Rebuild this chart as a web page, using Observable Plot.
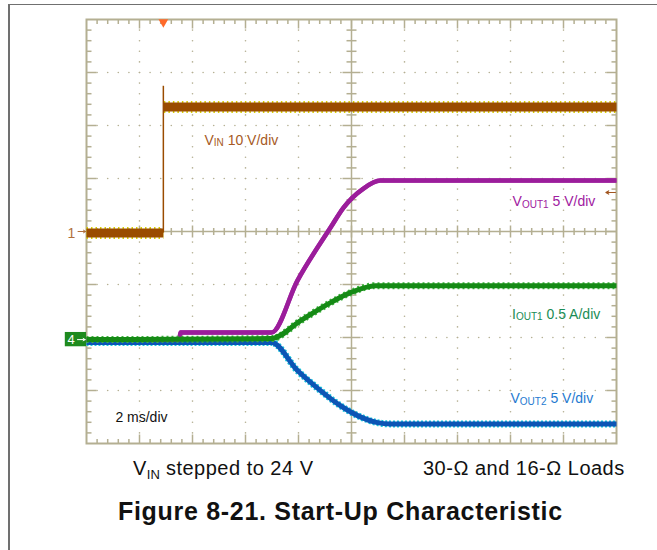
<!DOCTYPE html>
<html>
<head>
<meta charset="utf-8">
<script src="https://cdn.jsdelivr.net/npm/d3@7"></script>
<script src="https://cdn.jsdelivr.net/npm/@observablehq/plot@0.6"></script>
<style>
  html, body { margin: 0; padding: 0; background: #fff; }
  #wrap { position: relative; width: 657px; height: 550px; overflow: hidden;
          font-family: "Liberation Sans", Arial, sans-serif; }
  #pageframe { position: absolute; left: 8px; top: 4px; width: 700px; height: 600px;
               border-left: 2px solid #707070; border-top: 1.5px solid #707070; }
  #chart { position: absolute; left: 0; top: 0; }
  .cap { position: absolute; font-size: 20px; line-height: 20px; letter-spacing: 0.5px;
         color: #111; white-space: nowrap; }
  .cap sub { font-size: 13px; vertical-align: -4px; line-height: 0; letter-spacing: 0; }
  #title { position: absolute; left: 118px; top: 499px; font-size: 25px; line-height: 25px;
           font-weight: bold; letter-spacing: 0.7px; white-space: nowrap; color: #111; }
</style>
</head>
<body>
<div id="wrap">
  <div id="pageframe"></div>
  <div id="chart"></div>
  <div class="cap" style="left:133px; top:458px;">V<sub>IN</sub> stepped to 24 V</div>
  <div class="cap" style="left:423px; top:458px;">30-Ω and 16-Ω Loads</div>
  <div id="title">Figure 8-21. Start-Up Characteristic</div>
</div>
<script>
// ---------------- data ----------------
// channels: units per division and ground level (in divisions from centre)
const channelNames = ["VIN", "VOUT1", "IOUT1", "VOUT2"];
const unitsPerDiv  = [10, 5, 0.5, 5];
const groundDiv    = [0, -2.04, -2.04, -2.04];

// VIN (V) versus time (ms)
const stepTime   = 2.9;
const vinSpike   = 27.4;
const vinTime    = [0, 2.9, 2.92, 20];
const vinVolts   = [-0.3, -0.3, 23.5, 23.5];
const vinSegment = ["before", "before", "after", "after"];

// VOUT1 (V)
const vout1Time  = [0, 3.5, 3.55, 6.98, 7.96, 9.21, 9.70, 10.45, 11.09, 20];
const vout1Volts = [0, 0, 0.66, 0.66, 5.57, 10.57, 12.45, 14.25, 15.0, 15.0];

// IOUT1 (A)
const iout1Time  = [0, 6.98, 8.08, 9.21, 9.96, 10.91, 20];
const iout1Amps  = [0, 0.01, 0.179, 0.349, 0.443, 0.509, 0.509];

// VOUT2 (V)
const vout2Time  = [0, 6.98, 7.96, 8.83, 9.58, 10.23, 10.98, 11.47, 20];
const vout2Volts = [-0.28, -0.28, -2.92, -4.81, -6.23, -7.17, -7.83, -7.95, -7.95];

// trace labels
const labelMain = ["V", "V", "I", "V"];
const labelSub  = ["IN", "OUT1", "OUT1", "OUT2"];
const labelRest = [" 10 V/div", " 5 V/div", " 0.5 A/div", " 5 V/div"];
const timebaseLabel = "2 ms/div";

// ---------------- styling / layout ----------------
const traceColor = ["#9a4c00", "#9b1d9b", "#158a15", "#0c55b5"];
const edgeColor  = ["#d8cf00", "#b040b0", "#40b440", "#18c8dc"];
const labelColor = ["#a65a25", "#a020a0", "#1a8c55", "#1f7ad0"];
const gridColor  = "#b4af92";
const labelPos   = [[4.45, 1.636], [16.08, 0.477], [16.06, -1.647], [16.0, -3.245]];

const PXX = 20 / 530, PXY = 8 / 424;   // data units per pixel

function toRows(times, values, ch, seg) {
  return times.map((t, i) => ({
    t, div: groundDiv[ch] + values[i] / unitsPerDiv[ch], seg: seg ? seg[i] : "a"
  }));
}
const vinRows   = toRows(vinTime, vinVolts, 0, vinSegment);
const vout1Rows = toRows(vout1Time, vout1Volts, 1);
const iout1Rows = toRows(iout1Time, iout1Amps, 2);
const vout2Rows = toRows(vout2Time, vout2Volts, 3);

const labels = labelMain.map((m, i) => ({
  t: labelPos[i][0], div: labelPos[i][1], main: m, sub: labelSub[i], rest: labelRest[i],
  full: m + labelSub[i] + labelRest[i], color: labelColor[i]
}));

// graticule dots & ticks
const dots = [];
for (let k = 1; k < 8; k++) { if (k === 4) continue;
  for (let i = 1; i < 50; i++) dots.push({x: i * 0.4, y: -4 + k}); }
for (let k = 1; k < 10; k++) { if (k === 5) continue;
  for (let j = 1; j < 40; j++) dots.push({x: k * 2, y: -4 + j * 0.2}); }

const ticks = [];
for (let i = 1; i < 50; i++) {
  const x = i * 0.4, major = i % 5 === 0;
  const L = (major ? 9 : 4.5) * PXY, C = (major ? 6 : 3.5) * PXY;
  ticks.push({x1: x, x2: x, y1: 4, y2: 4 - L});
  ticks.push({x1: x, x2: x, y1: -4, y2: -4 + L});
  ticks.push({x1: x, x2: x, y1: -C, y2: C});
}
for (let j = 1; j < 40; j++) {
  const y = -4 + j * 0.2, major = j % 5 === 0;
  const L = (major ? 10 : 5) * PXX, C = (major ? 9 : 5) * PXX;
  ticks.push({x1: 0, x2: L, y1: y, y2: y});
  ticks.push({x1: 20, x2: 20 - L, y1: y, y2: y});
  ticks.push({x1: 10 - C, x2: 10 + C, y1: y, y2: y});
}

function traceMarks(rows, ch, w, edgeW, dash, curve) {
  const common = {x: "t", y: "div", z: "seg", curve: curve || "linear",
                  strokeLinecap: "butt", strokeLinejoin: "round"};
  return [
    Plot.line(rows, {...common, stroke: edgeColor[ch], strokeWidth: edgeW, strokeDasharray: dash}),
    Plot.line(rows, {...common, stroke: traceColor[ch], strokeWidth: w})
  ];
}

const chart = Plot.plot({
  width: 657, height: 460,
  marginLeft: 86, marginRight: 41, marginTop: 19, marginBottom: 17,
  x: {domain: [0, 20], axis: null},
  y: {domain: [-4, 4], axis: null},
  style: {fontFamily: "Liberation Sans, Arial, sans-serif", background: "transparent", overflow: "visible"},
  marks: [
    Plot.dot(dots, {x: "x", y: "y", r: 0.8, fill: gridColor, stroke: null}),
    Plot.ruleX([10], {stroke: gridColor, strokeWidth: 1.5}),
    Plot.ruleY([0], {stroke: gridColor, strokeWidth: 1.5}),
    Plot.link(ticks, {x1: "x1", y1: "y1", x2: "x2", y2: "y2", stroke: gridColor, strokeWidth: 1.5}),
    Plot.frame({stroke: gridColor, strokeWidth: 2}),
    // VIN
    ...traceMarks(vinRows, 0, 9, 12, "1.5,3"),
    Plot.ruleX([stepTime], {x: d => d, y1: groundDiv[0] + vinVolts[0] / unitsPerDiv[0],
                            y2: groundDiv[0] + vinSpike / unitsPerDiv[0],
                            stroke: traceColor[0], strokeWidth: 1.5}),
    // VOUT2, VOUT1, IOUT1
    ...traceMarks(vout2Rows, 3, 5, 7, "2,2", "monotone-x"),
    ...traceMarks(vout1Rows, 1, 4.5, 4.5, null, "monotone-x"),
    ...traceMarks(iout1Rows, 2, 5, 7, "2,3", "monotone-x"),
    // labels
    Plot.text(labels, {x: "t", y: "div", text: "full", fill: "color", fontSize: 14,
                       textAnchor: "start", lineAnchor: "bottom"}),
    Plot.text([timebaseLabel], {x: 1.09, y: -3.6, text: d => d, fill: "#111", fontSize: 14,
                                textAnchor: "start", lineAnchor: "bottom"}),
    // channel 1 marker
    Plot.text(["1"], {x: -0.42, y: groundDiv[0] - 0.03, text: d => d, fill: "#b0703c",
                      fontSize: 14, textAnchor: "end"}),
    Plot.arrow([0], {x1: -0.32, x2: -0.03, y1: groundDiv[0], y2: groundDiv[0],
                     stroke: "#b0703c", strokeWidth: 1, headLength: 4}),
    // channel 4 marker
    Plot.rect([0], {x1: -0.8, x2: 0, y1: groundDiv[2] - 0.135, y2: groundDiv[2] + 0.135,
                    fill: "#1e8a1e"}),
    Plot.text(["4"], {x: -0.58, y: groundDiv[2], text: d => d, fill: "#fff", fontSize: 13}),
    Plot.arrow([0], {x1: -0.34, x2: -0.05, y1: groundDiv[2], y2: groundDiv[2],
                     stroke: "#fff", strokeWidth: 1, headLength: 3.5}),
    // right-edge level marker
    Plot.arrow([0], {x1: 19.96, x2: 19.6, y1: 0.736, y2: 0.736,
                     stroke: "#a0541e", strokeWidth: 1.2, headLength: 4}),
    // trigger position
    Plot.dot([stepTime], {x: d => d, y: 4, symbol: "triangle", rotate: 180, r: 3.6,
                          fill: "#ff6a2a", stroke: null, dy: 2.6})
  ]
});

// subscripts in trace labels
d3.select(chart).selectAll("text").each(function () {
  const L = labels.find(l => l.full === this.textContent);
  if (!L) return;
  const sel = d3.select(this);
  sel.text(null);
  sel.append("tspan").text(L.main);
  sel.append("tspan").attr("font-size", 10).attr("dy", 1.5).text(L.sub);
  sel.append("tspan").attr("dy", -1.5).text(L.rest);
});

document.getElementById("chart").appendChild(chart);
</script>
</body>
</html>
